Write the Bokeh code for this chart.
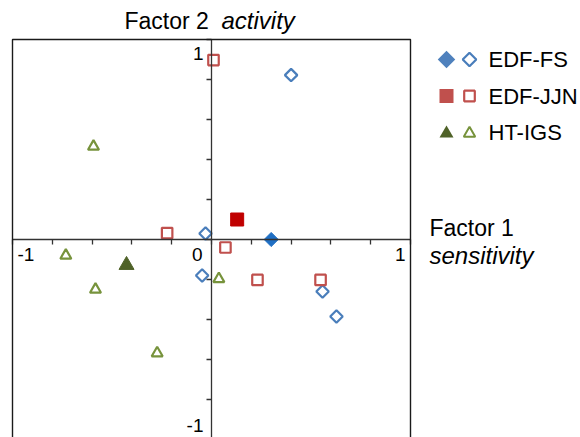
import numpy as np
from bokeh.plotting import figure
from bokeh.models import Range1d, LinearAxis, FixedTicker, BoxAnnotation, Label
from bokeh.embed import file_html
from bokeh.resources import INLINE

# ---------------- data ----------------
series_names = ["EDF-FS", "EDF-JJN", "HT-IGS"]

fs_open_x = [0.40, -0.03, -0.047, 0.558, 0.628]
fs_open_y = [0.822, 0.03, -0.18, -0.26, -0.385]
fs_filled_x = [0.30]
fs_filled_y = [0.0]

jjn_open_x = [0.01, -0.223, 0.07, 0.231, 0.548]
jjn_open_y = [0.897, 0.032, -0.04, -0.202, -0.202]
jjn_filled_x = [0.129]
jjn_filled_y = [0.10]

igs_open_x = [-0.593, -0.732, -0.583, 0.037, -0.273]
igs_open_y = [0.465, -0.08, -0.25, -0.197, -0.568]
igs_filled_x = [-0.427]
igs_filled_y = [-0.128]

tick_values = [-1.0, -0.8, -0.6, -0.4, -0.2, 0.0, 0.2, 0.4, 0.6, 0.8, 1.0]
x_label_values = [-1, 0, 1]
x_label_texts = ["-1", "0", "1"]
y_label_values = [1, -1]
y_label_texts = ["1", "-1"]

x_title = ["Factor 1", "sensitivity"]
y_title = ["Factor 2", "activity"]

# ---------------- styles ----------------
FS_OPEN = "#4a7ebb"
FS_FILL_CHART = "#1f6fc4"
FS_FILL_LEG = "#4f81bd"
JJN_OPEN = "#c0504d"
JJN_FILL_CHART = "#c00000"
JJN_FILL_LEG = "#c0504d"
IGS_OPEN = "#77933c"
IGS_FILL = "#4f6228"
FONT = "Liberation Sans"

W, H = 580, 437
X0_PX, Y0_PX = 211.0, 239.0   # pixel position of the data origin
SX, SY = 199.0, 200.0          # pixels per data unit
TXT_SHIFT = 8.0                # label baseline correction (px)


def dx(px):
    return (px - X0_PX) / SX


def dy(py):
    return (Y0_PX - py) / SY


def ty(py):
    # data y for a text baseline wanted at pixel row py
    return dy(py - TXT_SHIFT)


p = figure(width=W, height=H,
           x_range=Range1d(dx(0), dx(W)), y_range=Range1d(dy(H), dy(0)),
           output_backend="svg", toolbar_location=None,
           x_axis_location=None, y_axis_location=None,
           min_border=0)
p.min_border_left = p.min_border_right = 0
p.min_border_top = p.min_border_bottom = 0
p.outline_line_color = None
p.grid.visible = False
p.background_fill_color = "white"
p.border_fill_color = "white"

# plot box (left, top, right edges)
p.add_layout(BoxAnnotation(left=tick_values[0], right=tick_values[-1],
                           top=tick_values[-1], bottom=tick_values[0],
                           fill_alpha=0, line_color="#1a1a1a", line_alpha=1.0,
                           line_width=1.4))

AX_COL = "#333333"
for loc in ("below", "left"):
    ax = LinearAxis(fixed_location=0, bounds=(tick_values[0], tick_values[-1]),
                    ticker=FixedTicker(ticks=tick_values),
                    major_tick_out=5, major_tick_in=0,
                    minor_tick_out=0, minor_tick_in=0,
                    major_label_text_color=None,
                    axis_line_color=AX_COL, axis_line_width=1.3,
                    major_tick_line_color=AX_COL, major_tick_line_width=1.3)
    p.add_layout(ax, loc)

# ---------------- data marks ----------------
ROT = np.pi / 4
p.scatter(fs_open_x, fs_open_y, marker="square", angle=ROT, size=8.8,
          fill_color=None, line_color=FS_OPEN, line_width=2.2)
p.scatter(jjn_open_x, jjn_open_y, marker="square", size=10.5,
          fill_color=None, line_color=JJN_OPEN, line_width=2.2)
p.scatter(igs_open_x, igs_open_y, marker="triangle", size=11,
          fill_color=None, line_color=IGS_OPEN, line_width=2.2)

p.scatter(fs_filled_x, fs_filled_y, marker="square", angle=ROT, size=10,
          fill_color=FS_FILL_CHART, line_color=FS_FILL_CHART, line_width=1)
p.scatter(jjn_filled_x, jjn_filled_y, marker="square", size=13,
          fill_color=JJN_FILL_CHART, line_color=JJN_FILL_CHART, line_width=1)
p.scatter(igs_filled_x, igs_filled_y, marker="triangle", size=15,
          fill_color=IGS_FILL, line_color=IGS_FILL, line_width=1)

# ---------------- tick labels ----------------
TICK_FS = "19px"
x_lab_cfg = [("left", 5), ("right", -9), ("right", -5)]
for v, t, (al, off) in zip(x_label_values, x_label_texts, x_lab_cfg):
    p.add_layout(Label(x=v + off / SX, y=ty(262), text=t, text_align=al,
                       text_baseline="alphabetic", text_font=FONT,
                       text_font_size=TICK_FS, text_color="black"))
y_lab_base = [61, 433]
for v, t, b in zip(y_label_values, y_label_texts, y_lab_base):
    p.add_layout(Label(x=dx(203), y=ty(b), text=t, text_align="right",
                       text_baseline="alphabetic", text_font=FONT,
                       text_font_size=TICK_FS, text_color="black"))

# ---------------- axis titles ----------------
p.add_layout(Label(x=dx(124), y=ty(28), text=y_title[0], text_align="left",
                   text_baseline="alphabetic", text_font=FONT,
                   text_font_size="23px", text_color="black"))
p.add_layout(Label(x=dx(221), y=ty(28), text=y_title[1], text_align="left",
                   text_baseline="alphabetic", text_font=FONT,
                   text_font_style="italic",
                   text_font_size="24px", text_color="black"))
p.add_layout(Label(x=dx(429), y=ty(235), text=x_title[0], text_align="left",
                   text_baseline="alphabetic", text_font=FONT,
                   text_font_size="23px", text_color="black"))
p.add_layout(Label(x=dx(429), y=ty(263), text=x_title[1], text_align="left",
                   text_baseline="alphabetic", text_font=FONT,
                   text_font_style="italic",
                   text_font_size="24px", text_color="black"))

# ---------------- legend ----------------
LEG_TOP = 59.0
LEG_STEP = 36.5
leg_filled_x = dx(446)
leg_open_x = dx(469)
leg_text_x = dx(488)
leg_rows_px = [LEG_TOP + i * LEG_STEP for i in range(len(series_names))]
leg_rows = [dy(r) for r in leg_rows_px]

p.scatter([leg_filled_x], [leg_rows[0]], marker="square", angle=ROT, size=12.4,
          fill_color=FS_FILL_LEG, line_color=None)
p.scatter([leg_open_x], [leg_rows[0]], marker="square", angle=ROT, size=9.6,
          fill_color=None, line_color=FS_OPEN, line_width=2.2)
p.scatter([leg_filled_x], [leg_rows[1]], marker="square", size=14,
          fill_color=JJN_FILL_LEG, line_color=None)
p.scatter([leg_open_x], [leg_rows[1]], marker="square", size=10.6,
          fill_color=None, line_color=JJN_OPEN, line_width=2.2)
p.scatter([leg_filled_x], [leg_rows[2] - 1 / SY], marker="triangle", size=14,
          fill_color=IGS_FILL, line_color=None)
p.scatter([leg_open_x], [leg_rows[2] - 1 / SY], marker="triangle", size=11.5,
          fill_color=None, line_color=IGS_OPEN, line_width=2)

for name, r in zip(series_names, leg_rows_px):
    p.add_layout(Label(x=leg_text_x, y=ty(r + 8), text=name, text_align="left",
                       text_baseline="alphabetic", text_font=FONT,
                       text_font_size="22px", text_color="black"))

open("out.html", "w").write(file_html(p, INLINE))
